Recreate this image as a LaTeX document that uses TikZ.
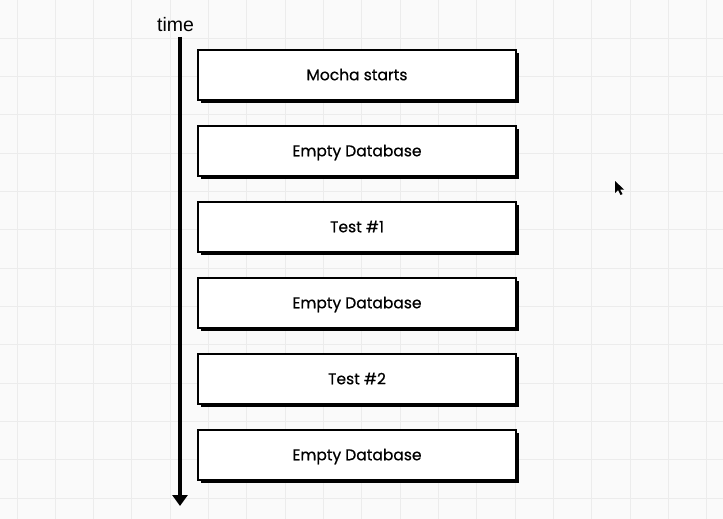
\documentclass[tikz,border=0pt]{standalone}
\usepackage{fontspec}
\setmainfont{Poppins}
\newfontfamily\boxfont{Poppins}[FakeBold=0.6]
\newfontfamily\timefont{Liberation Sans}
\usetikzlibrary{arrows.meta,shadows}
\definecolor{bgc}{RGB}{250,250,250}
\definecolor{gridc}{RGB}{236,236,236}
\tikzset{
  stagebox/.style={draw=black, line width=1.3pt, fill=white, minimum width=318pt, minimum height=50pt,
    inner sep=0pt, text height=10.5pt, text depth=0pt, font=\boxfont\fontsize{15.5}{18}\selectfont,
    drop shadow={shadow xshift=3pt, shadow yshift=-3pt, fill=black, opacity=1}},
  timearrow/.style={line width=4pt, -{Triangle[width=15pt,length=11pt]}},
}
\begin{document}
\begin{tikzpicture}[x=1pt,y=-1pt]
\useasboundingbox (0,0) rectangle (723,519);
\fill[bgc] (0,0) rectangle (723,519);
\foreach \i in {0,...,18} { \draw[gridc, line width=1pt] ({17+38.33*\i},0) -- ({17+38.33*\i},519); }
\foreach \j in {0,...,13} { \draw[gridc, line width=1pt] (0,{38.33*\j}) -- (723,{38.33*\j}); }
\node[font=\timefont\fontsize{19.5}{22}\selectfont, inner sep=0pt] (time) at (175.5,25) {time};
\coordinate (atop) at (180,37);
\coordinate (abot) at (180,506);
\draw[timearrow] (atop) -- (abot);
\node[stagebox] (b1) at (357,75) {Mocha starts};
\node[stagebox] (b2) at (357,151) {Empty Database};
\node[stagebox] (b3) at (357,227) {Test \#1};
\node[stagebox] (b4) at (357,303) {Empty Database};
\node[stagebox] (b5) at (357,379) {Test \#2};
\node[stagebox] (b6) at (357,455) {Empty Database};
\fill[black] (615,181) -- (615,193) -- (618,190) -- (620.5,195) -- (622.5,194) -- (620,189.5) -- (624,189.5) -- cycle;
\end{tikzpicture}
\end{document}
